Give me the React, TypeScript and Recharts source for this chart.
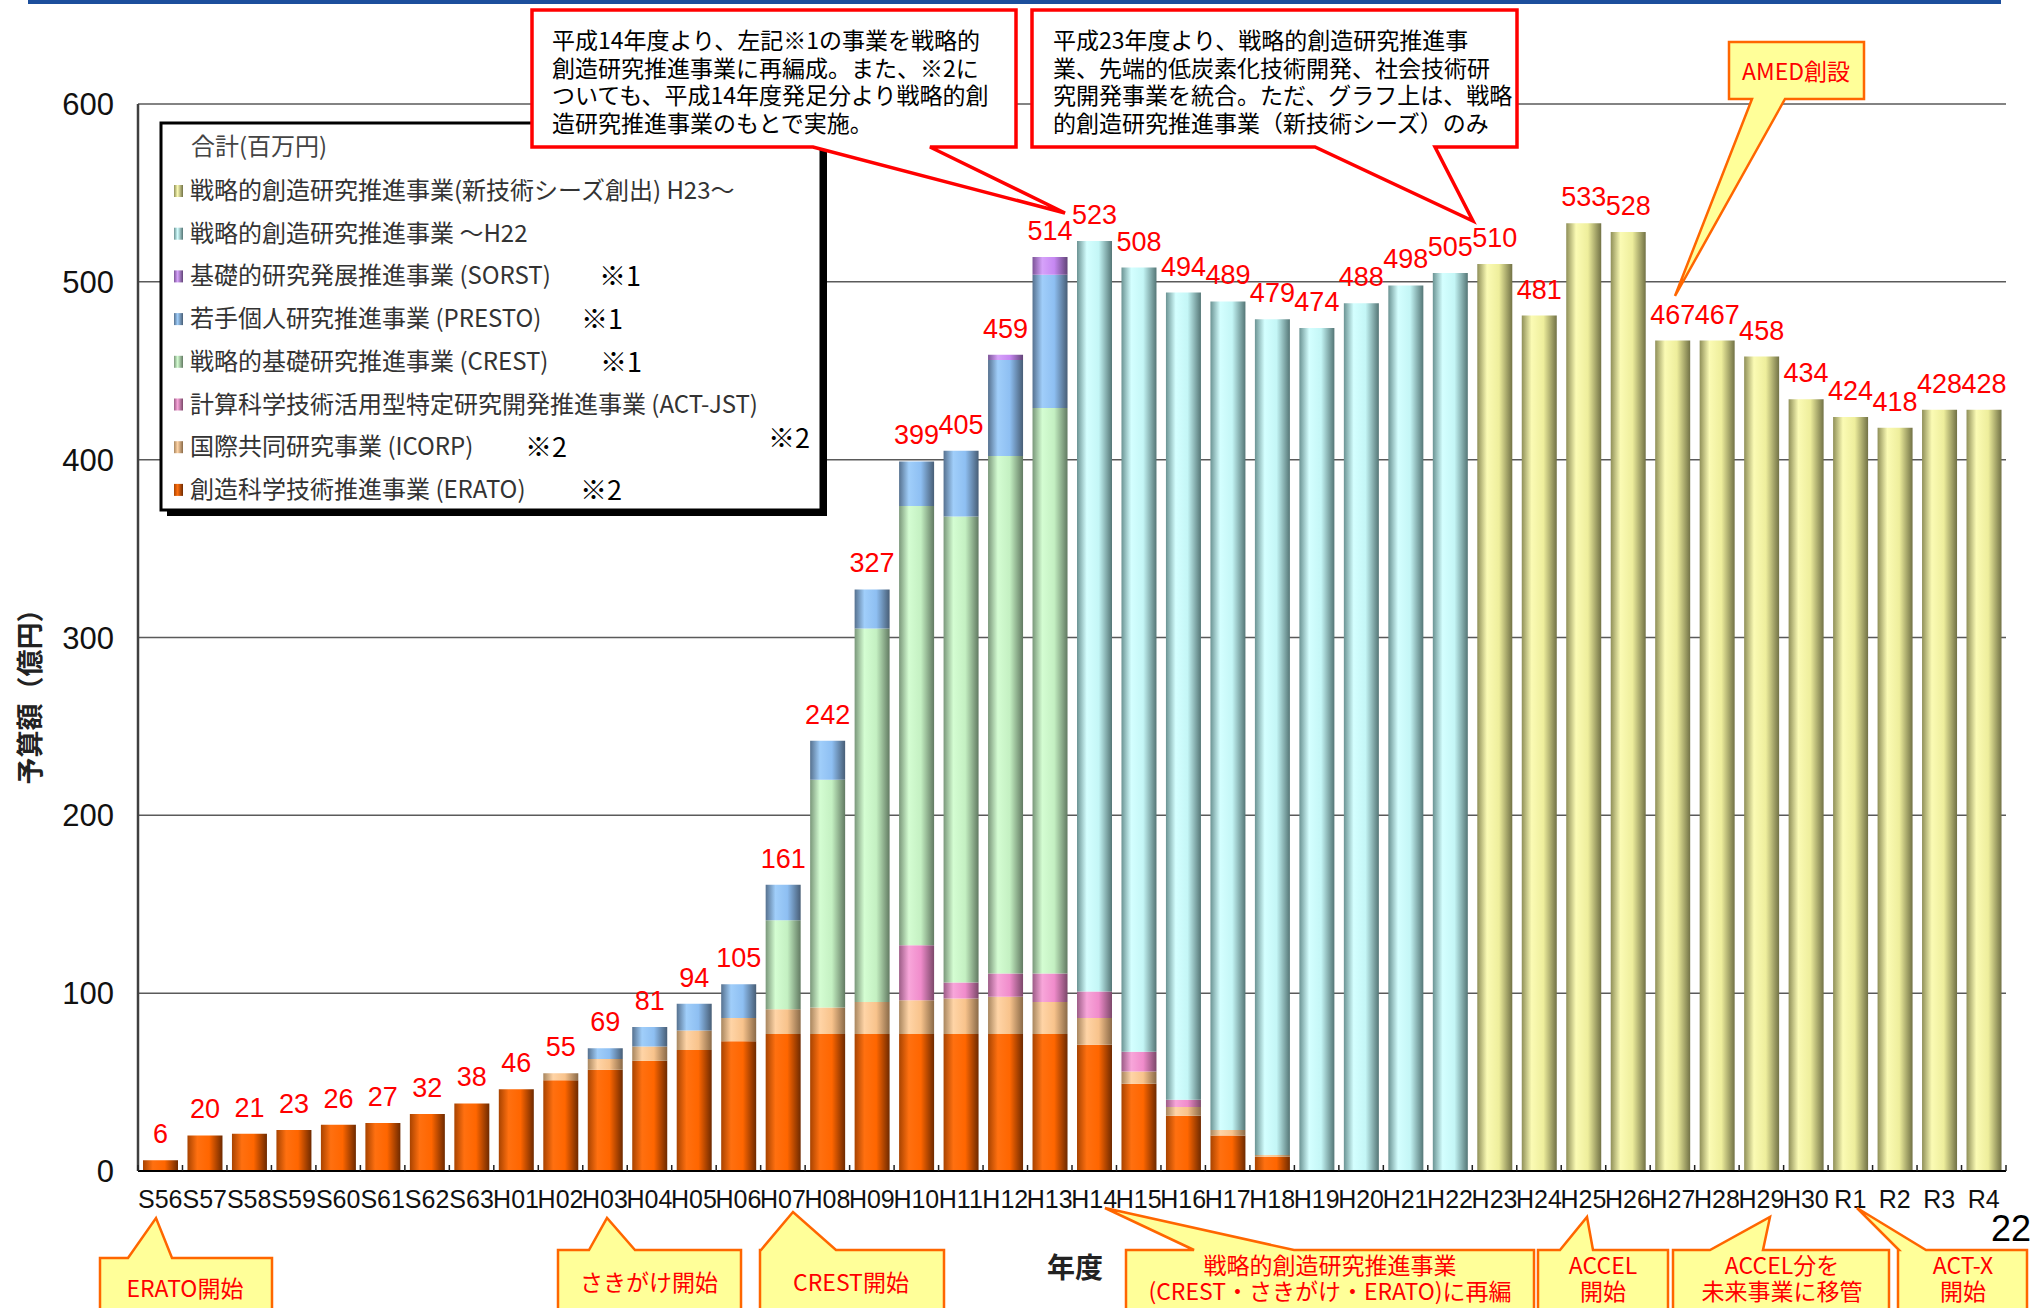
import React from "react";
import { BarChart, Bar, XAxis, YAxis, CartesianGrid, LabelList } from "recharts";

const W = 2031;
const H = 1308;
const PLOT_LEFT = 138;
const PLOT_RIGHT = 2006;
const PLOT_TOP = 104;
const PLOT_BOTTOM = 1171;

const JP = "'Noto Sans CJK JP', 'Noto Sans', sans-serif";
const LAT = "'Liberation Sans', Arial, sans-serif";

// 年度
const years = [
  "S56", "S57", "S58", "S59", "S60", "S61", "S62", "S63",
  "H01", "H02", "H03", "H04", "H05", "H06", "H07", "H08", "H09", "H10",
  "H11", "H12", "H13", "H14", "H15", "H16", "H17", "H18", "H19", "H20",
  "H21", "H22", "H23", "H24", "H25", "H26", "H27", "H28", "H29", "H30",
  "R1", "R2", "R3", "R4",
];

// 億円, 事業ごと
const erato = [
  6, 20, 21, 23, 26, 27, 32, 38,
  46, 51, 57, 62, 68, 73, 77, 77, 77, 77,
  77, 77, 77, 71, 49, 31, 20, 8, 0, 0,
  0, 0, 0, 0, 0, 0, 0, 0, 0, 0,
  0, 0, 0, 0,
];
const icorp = [
  0, 0, 0, 0, 0, 0, 0, 0,
  0, 4, 6, 8, 11, 13, 14, 15, 18, 19,
  20, 21, 18, 15, 7, 5, 3, 1, 0, 0,
  0, 0, 0, 0, 0, 0, 0, 0, 0, 0,
  0, 0, 0, 0,
];
const actJst = [
  0, 0, 0, 0, 0, 0, 0, 0,
  0, 0, 0, 0, 0, 0, 0, 0, 0, 31,
  9, 13, 16, 15, 11, 4, 0, 0, 0, 0,
  0, 0, 0, 0, 0, 0, 0, 0, 0, 0,
  0, 0, 0, 0,
];
const crest = [
  0, 0, 0, 0, 0, 0, 0, 0,
  0, 0, 0, 0, 0, 0, 50, 128, 210, 247,
  262, 291, 318, 0, 0, 0, 0, 0, 0, 0,
  0, 0, 0, 0, 0, 0, 0, 0, 0, 0,
  0, 0, 0, 0,
];
const presto = [
  0, 0, 0, 0, 0, 0, 0, 0,
  0, 0, 6, 11, 15, 19, 20, 22, 22, 25,
  37, 54, 75, 0, 0, 0, 0, 0, 0, 0,
  0, 0, 0, 0, 0, 0, 0, 0, 0, 0,
  0, 0, 0, 0,
];
const sorst = [
  0, 0, 0, 0, 0, 0, 0, 0,
  0, 0, 0, 0, 0, 0, 0, 0, 0, 0,
  0, 3, 10, 0, 0, 0, 0, 0, 0, 0,
  0, 0, 0, 0, 0, 0, 0, 0, 0, 0,
  0, 0, 0, 0,
];
const senryaku = [
  0, 0, 0, 0, 0, 0, 0, 0,
  0, 0, 0, 0, 0, 0, 0, 0, 0, 0,
  0, 0, 0, 422, 441, 454, 466, 470, 474, 488,
  498, 505, 0, 0, 0, 0, 0, 0, 0, 0,
  0, 0, 0, 0,
];
const seeds = [
  0, 0, 0, 0, 0, 0, 0, 0,
  0, 0, 0, 0, 0, 0, 0, 0, 0, 0,
  0, 0, 0, 0, 0, 0, 0, 0, 0, 0,
  0, 0, 510, 481, 533, 528, 467, 467, 458, 434,
  424, 418, 428, 428,
];

// 合計(棒の上の数字)
const totals = [
  6, 20, 21, 23, 26, 27, 32, 38,
  46, 55, 69, 81, 94, 105, 161, 242, 327, 399,
  405, 459, 514, 523, 508, 494, 489, 479, 474, 488,
  498, 505, 510, 481, 533, 528, 467, 467, 458, 434,
  424, 418, 428, 428,
];

const yTicks = [0, 100, 200, 300, 400, 500, 600];

// 積み上げ順(下から)。shade は左端・ハイライト・地色・右端
const series = [
  { key: "erato", name: "創造科学技術推進事業 (ERATO)", note: "※2", noteX: 580, shade: ["#a84300", "#ff7010", "#ff6600", "#6e2a00"] },
  { key: "icorp", name: "国際共同研究事業 (ICORP)", note: "※2", noteX: 525, shade: ["#a8865f", "#ffd4a6", "#f8c38c", "#8a6a48"] },
  { key: "actJst", name: "計算科学技術活用型特定研究開発推進事業 (ACT-JST)", note: "", noteX: 0, shade: ["#9c5c86", "#f8a6da", "#f08ccb", "#7c486a"] },
  { key: "crest", name: "戦略的基礎研究推進事業 (CREST)", note: "※1", noteX: 600, shade: ["#7a977a", "#d4fdd2", "#c4f0c2", "#627a62"] },
  { key: "presto", name: "若手個人研究推進事業 (PRESTO)", note: "※1", noteX: 581, shade: ["#56718f", "#a0cefa", "#8ebff2", "#485e76"] },
  { key: "sorst", name: "基礎的研究発展推進事業 (SORST)", note: "※1", noteX: 599, shade: ["#7c5498", "#d6a2fa", "#c688f2", "#624478"] },
  { key: "senryaku", name: "戦略的創造研究推進事業 ～H22", note: "", noteX: 0, shade: ["#6b9393", "#d4ffff", "#c4f6f6", "#557676"] },
  { key: "seeds", name: "戦略的創造研究推進事業(新技術シーズ創出) H23～", note: "", noteX: 0, shade: ["#8f8f58", "#fbfbb4", "#eeee9c", "#727246"] },
];

const values: Record<string, number[]> = { erato, icorp, actJst, crest, presto, sorst, senryaku, seeds };

const rows = years.map((year, i) => {
  const row: any = { year, total: totals[i] };
  let top = "";
  series.forEach((s) => {
    row[s.key] = values[s.key][i];
    if (values[s.key][i] > 0) top = s.key;
  });
  row.top = top;
  return row;
});

const BAND = (PLOT_RIGHT - PLOT_LEFT) / years.length;

const YearTick = (props: any) => {
  const { x, y, payload, index } = props;
  const half = BAND / 2;
  return (
    <g>
      <line x1={x - half} x2={x - half} y1={y - 6} y2={y} stroke="#222" strokeWidth={1.5} />
      {index === years.length - 1 && (
        <line x1={x + half} x2={x + half} y1={y - 6} y2={y} stroke="#222" strokeWidth={1.5} />
      )}
      <text x={x} y={y + 37} textAnchor="middle" fontSize={25} fontFamily={LAT} fill="#111">
        {payload.value}
      </text>
    </g>
  );
};

// 合計は一番上に積まれた事業の棒の上に出す
const renderTotal = (props: any) => {
  if (props.value == null || props.value === "") return null;
  const vb = props.viewBox && props.viewBox.width != null ? props.viewBox : props;
  const cx = Number(vb.x) + Number(vb.width) / 2;
  const top = Number(vb.y) + Math.min(0, Number(vb.height));
  return (
    <text x={cx} y={top - 17} textAnchor="middle" fontSize={27} fontFamily={LAT} fill="#ff0000">
      {props.value}
    </text>
  );
};

// 吹き出し(箱+くさび)
type Callout = {
  box: [number, number, number, number];
  base: [number, number];
  tip: [number, number];
  side: "top" | "bottom";
};

const calloutPath = ({ box, base, tip, side }: Callout) => {
  const [l, t, r, b] = box;
  if (side === "bottom") {
    return `M${l},${t} H${r} V${b} H${base[1]} L${tip[0]},${tip[1]} L${base[0]},${b} H${l} Z`;
  }
  return `M${l},${t} H${base[0]} L${tip[0]},${tip[1]} L${base[1]},${t} H${r} V${b} H${l} Z`;
};

const redNotes = [
  {
    shape: { box: [532, 10, 1016, 147], base: [813, 930], tip: [1065, 213], side: "bottom" } as Callout,
    x: 552,
    lines: [
      "平成14年度より、左記※1の事業を戦略的",
      "創造研究推進事業に再編成。また、※2に",
      "ついても、平成14年度発足分より戦略的創",
      "造研究推進事業のもとで実施。",
    ],
  },
  {
    shape: { box: [1032, 10, 1517, 147], base: [1315, 1435], tip: [1473, 221], side: "bottom" } as Callout,
    x: 1053,
    lines: [
      "平成23年度より、戦略的創造研究推進事",
      "業、先端的低炭素化技術開発、社会技術研",
      "究開発事業を統合。ただ、グラフ上は、戦略",
      "的創造研究推進事業（新技術シーズ）のみ",
    ],
  },
];

const yellowNotes = [
  { shape: { box: [1729, 42, 1864, 99], base: [1752, 1785], tip: [1675, 296], side: "bottom" } as Callout, cx: 1796, lines: ["AMED創設"], y0: 80 },
  { shape: { box: [100, 1258, 272, 1314], base: [128, 172], tip: [156, 1218], side: "top" } as Callout, cx: 185, lines: ["ERATO開始"], y0: 1297 },
  { shape: { box: [558, 1250, 741, 1314], base: [589, 635], tip: [607, 1218], side: "top" } as Callout, cx: 649, lines: ["さきがけ開始"], y0: 1291 },
  { shape: { box: [760, 1250, 944, 1314], base: [761, 836], tip: [793, 1212], side: "top" } as Callout, cx: 851, lines: ["CREST開始"], y0: 1291 },
  { shape: { box: [1126, 1250, 1534, 1314], base: [1194, 1294], tip: [1105, 1208], side: "top" } as Callout, cx: 1330, lines: ["戦略的創造研究推進事業", "(CREST・さきがけ・ERATO)に再編"], y0: 1274 },
  { shape: { box: [1538, 1250, 1668, 1314], base: [1560, 1593], tip: [1587, 1217], side: "top" } as Callout, cx: 1603, lines: ["ACCEL", "開始"], y0: 1274 },
  { shape: { box: [1673, 1250, 1889, 1314], base: [1710, 1763], tip: [1770, 1217], side: "top" } as Callout, cx: 1782, lines: ["ACCEL分を", "未来事業に移管"], y0: 1274 },
  { shape: { box: [1898, 1250, 2027, 1314], base: [1899, 1926], tip: [1857, 1208], side: "top" } as Callout, cx: 1963, lines: ["ACT-X", "開始"], y0: 1274 },
];

const Legend = () => {
  const items = [...series].reverse();
  return (
    <g>
      <rect x={167} y={129} width={660} height={387} fill="#000" />
      <rect x={161} y={123} width={660} height={387} fill="#fff" stroke="#000" strokeWidth={3} />
      <text x={191} y={155} fontSize={24} fontFamily={JP} fill="#444">合計(百万円)</text>
      {items.map((s, i) => {
        const cy = 191 + i * 42.7;
        return (
          <g key={s.key}>
            <rect x={174} y={cy - 6} width={9} height={12} fill={`url(#lg-${s.key})`} />
            <text x={190} y={cy + 8} fontSize={24} fontFamily={JP} fill="#333">{s.name}</text>
            {s.note && (
              <text x={s.noteX} y={cy + 10} fontSize={27} fontFamily={JP} fill="#000">{s.note}</text>
            )}
          </g>
        );
      })}
      <text x={768} y={448} fontSize={27} fontFamily={JP} fill="#000">※2</text>
    </g>
  );
};

const Overlay = () => (
  <svg width={W} height={H} style={{ position: "absolute", left: 0, top: 0, pointerEvents: "none" }}>
    <defs>
      {series.map((s) => (
        <linearGradient key={s.key} id={`lg-${s.key}`} x1="0" y1="0" x2="1" y2="0">
          <stop offset="0%" stopColor={s.shade[0]} />
          <stop offset="40%" stopColor={s.shade[1]} />
          <stop offset="100%" stopColor={s.shade[3]} />
        </linearGradient>
      ))}
    </defs>
    <rect x={28} y={0} width={1973} height={4} fill="#1c4e9c" />

    <Legend />

    {redNotes.map((n, i) => (
      <g key={i}>
        <path d={calloutPath(n.shape)} fill="#fff" stroke="#ff0000" strokeWidth={3.5} strokeLinejoin="miter" />
        <text x={n.x} y={49} fontSize={23} fontFamily={JP} fill="#000">
          {n.lines.map((line, j) => (
            <tspan key={j} x={n.x} dy={j === 0 ? 0 : 27.7}>{line}</tspan>
          ))}
        </text>
      </g>
    ))}

    {yellowNotes.map((n, i) => (
      <g key={i}>
        <path d={calloutPath(n.shape)} fill="#ffff99" stroke="#ff6600" strokeWidth={2.5} />
        <text x={n.cx} y={n.y0} textAnchor="middle" fontSize={23} fontFamily={JP} fill="#ff0000">
          {n.lines.map((line, j) => (
            <tspan key={j} x={n.cx} dy={j === 0 ? 0 : 26}>{line}</tspan>
          ))}
        </text>
      </g>
    ))}

    <text transform="translate(40,690) rotate(-90)" textAnchor="middle" fontSize={27} fontWeight={700} fontFamily={JP} fill="#222">
      予算額（億円）
    </text>
    <text x={1075} y={1278} textAnchor="middle" fontSize={28} fontWeight={700} fontFamily={JP} fill="#222">年度</text>
    <text x={2031} y={1241} textAnchor="end" fontSize={36} fontFamily={LAT} fill="#000">22</text>
  </svg>
);

export default function App() {
  return (
    <div style={{ position: "absolute", left: 0, top: 0, width: W, height: H, background: "#fff", overflow: "hidden", fontFamily: LAT }}>
      <BarChart
        width={W}
        height={H}
        data={rows}
        margin={{ top: PLOT_TOP, right: W - PLOT_RIGHT, bottom: H - PLOT_BOTTOM - 60, left: 0 }}
        barSize={35}
      >
        <defs>
          {series.map((s) => (
            <linearGradient key={s.key} id={`fill-${s.key}`} x1="0" y1="0" x2="1" y2="0">
              <stop offset="0%" stopColor={s.shade[0]} />
              <stop offset="28%" stopColor={s.shade[1]} />
              <stop offset="62%" stopColor={s.shade[2]} />
              <stop offset="100%" stopColor={s.shade[3]} />
            </linearGradient>
          ))}
        </defs>
        <CartesianGrid vertical={false} stroke="#5a5a5a" strokeWidth={1.5} />
        <XAxis
          dataKey="year"
          interval={0}
          height={60}
          tickLine={false}
          tickSize={0}
          tickMargin={0}
          axisLine={{ stroke: "#000", strokeWidth: 2 }}
          tick={<YearTick />}
        />
        <YAxis
          width={PLOT_LEFT}
          domain={[0, 600]}
          ticks={yTicks}
          tickLine={false}
          tickSize={0}
          tickMargin={24}
          axisLine={{ stroke: "#404040", strokeWidth: 2.5 }}
          tick={{ fill: "#111", fontSize: 31, fontFamily: LAT }}
        />
        {series.map((s) => (
          <Bar
            key={s.key}
            dataKey={s.key}
            stackId="jst"
            fill={`url(#fill-${s.key})`}
            isAnimationActive={false}
          >
            <LabelList
              dataKey={(row: any) => (row.top === s.key ? row.total : null)}
              content={renderTotal}
            />
          </Bar>
        ))}
      </BarChart>
      <Overlay />
    </div>
  );
}
